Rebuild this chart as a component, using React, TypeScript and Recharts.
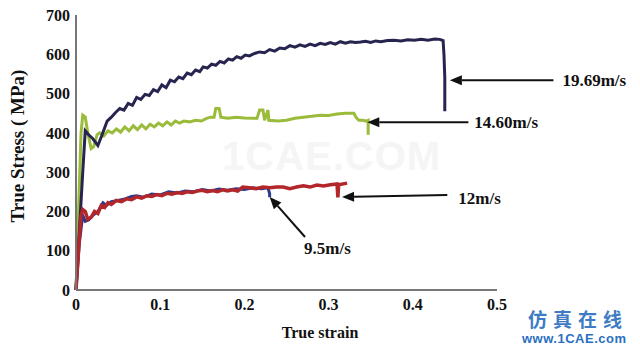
import React from 'react';
import { LineChart, Line, XAxis, YAxis, ReferenceLine } from 'recharts';

const strainTicks = [0, 0.1, 0.2, 0.3, 0.4, 0.5];
const stressTicks = [0, 100, 200, 300, 400, 500, 600, 700];

const v1969: [number, number][] = [
  [0, 0], [0.004, 150], [0.008, 300], [0.011, 405], [0.015, 395], [0.02, 385], [0.026, 368],
  [0.031, 395], [0.037, 430], [0.042, 440], [0.047, 452], [0.052, 462], [0.057, 458], [0.062, 475],
  [0.067, 470], [0.072, 490], [0.077, 485], [0.082, 498], [0.087, 495], [0.092, 510], [0.097, 505],
  [0.102, 522], [0.107, 515], [0.112, 534], [0.117, 530], [0.122, 542], [0.127, 538], [0.132, 552],
  [0.137, 548], [0.142, 560], [0.147, 556], [0.151, 568], [0.156, 565], [0.161, 575], [0.166, 572],
  [0.171, 582], [0.176, 578], [0.181, 588], [0.186, 585], [0.191, 594], [0.196, 590], [0.201, 598],
  [0.206, 596], [0.212, 602], [0.218, 606], [0.224, 604], [0.23, 612], [0.236, 608], [0.242, 616],
  [0.248, 614], [0.254, 622], [0.26, 618], [0.266, 624], [0.272, 620], [0.278, 626], [0.284, 622],
  [0.29, 628], [0.296, 625], [0.302, 630], [0.308, 626], [0.314, 632], [0.32, 628], [0.326, 632],
  [0.332, 630], [0.338, 631], [0.344, 633], [0.35, 630], [0.356, 634], [0.362, 632], [0.37, 635],
  [0.378, 636], [0.386, 634], [0.394, 637], [0.402, 636], [0.41, 638], [0.418, 636], [0.426, 639],
  [0.432, 638], [0.436, 635], [0.437, 600], [0.438, 540], [0.438, 470], [0.438, 455],
];

const v1460: [number, number][] = [
  [0, 0], [0.003, 200], [0.006, 400], [0.008, 445], [0.011, 440], [0.014, 400], [0.018, 360],
  [0.021, 365], [0.025, 395], [0.028, 400], [0.033, 392], [0.038, 405], [0.043, 400], [0.048, 410],
  [0.053, 402], [0.058, 415], [0.063, 405], [0.068, 418], [0.073, 408], [0.078, 420], [0.083, 410],
  [0.088, 422], [0.093, 415], [0.098, 425], [0.103, 418], [0.108, 428], [0.113, 420], [0.118, 430],
  [0.123, 425], [0.128, 430], [0.135, 428], [0.142, 432], [0.149, 430], [0.155, 437], [0.16, 440],
  [0.164, 440], [0.166, 462], [0.17, 462], [0.172, 440], [0.18, 437], [0.19, 440], [0.2, 438],
  [0.21, 437], [0.215, 437], [0.218, 458], [0.222, 458], [0.224, 432], [0.228, 458], [0.229, 432],
  [0.24, 430], [0.25, 432], [0.26, 437], [0.27, 440], [0.28, 442], [0.29, 445], [0.3, 444],
  [0.31, 448], [0.32, 450], [0.33, 450], [0.333, 438], [0.336, 432], [0.34, 432], [0.345, 430],
  [0.347, 432], [0.347, 395],
];

const v12: [number, number][] = [
  [0, 0], [0.003, 100], [0.006, 190], [0.008, 205], [0.011, 200], [0.014, 180], [0.018, 185],
  [0.022, 200], [0.026, 195], [0.03, 215], [0.034, 210], [0.038, 222], [0.042, 218], [0.048, 228],
  [0.054, 225], [0.06, 232], [0.066, 230], [0.072, 237], [0.078, 234], [0.084, 240], [0.09, 238],
  [0.096, 243], [0.102, 240], [0.108, 246], [0.114, 244], [0.12, 248], [0.126, 246], [0.132, 250],
  [0.138, 248], [0.144, 252], [0.15, 254], [0.156, 250], [0.162, 253], [0.168, 250], [0.174, 255],
  [0.18, 252], [0.186, 255], [0.192, 252], [0.198, 262], [0.206, 260], [0.214, 258], [0.222, 262],
  [0.23, 260], [0.238, 262], [0.246, 262], [0.254, 258], [0.262, 262], [0.27, 265], [0.278, 262],
  [0.286, 267], [0.294, 265], [0.302, 268], [0.31, 270], [0.311, 236], [0.312, 268], [0.322, 272],
];

const v95: [number, number][] = [
  [0, 0], [0.004, 120], [0.008, 190], [0.011, 175], [0.015, 178], [0.02, 190], [0.026, 200],
  [0.032, 222], [0.036, 215], [0.042, 225], [0.05, 228], [0.058, 232], [0.066, 238], [0.072, 240],
  [0.08, 236], [0.09, 244], [0.1, 242], [0.11, 250], [0.12, 247], [0.13, 252], [0.14, 250],
  [0.15, 256], [0.16, 252], [0.17, 257], [0.18, 254], [0.19, 258], [0.2, 256], [0.21, 260],
  [0.22, 258], [0.228, 260], [0.23, 245], [0.23, 236],
];

// annotation: label, arrow tip (strain, stress), arrow tail (strain, stress)
const annLabels = ['19.69m/s', '14.60m/s', '12m/s', '9.5m/s'];
const annTips: [number, number][] = [[0.444, 534], [0.346, 427], [0.316, 237], [0.23, 237]];
const annTails: [number, number][] = [[0.567, 534], [0.466, 427], [0.441, 242], [0.272, 135]];

const toRows = (arr: [number, number][]) => arr.map(([x, y]) => ({ x, y }));

const FONT = "'Liberation Serif', 'Times New Roman', serif";

const textOffsets = [
  { dx: 9, dy: 0, anchor: 'start' },
  { dx: 6, dy: 0, anchor: 'start' },
  { dx: 11, dy: 4, anchor: 'start' },
  { dx: -1, dy: 12, anchor: 'start' },
];

const makeArrow = (idx: number) => (props: any) => {
  const { x1, y1, x2, y2 } = props;
  const ang = Math.atan2(y2 - y1, x2 - x1);
  const L = 12;
  const W = 5;
  const bx = x2 - L * Math.cos(ang);
  const by = y2 - L * Math.sin(ang);
  const px = -Math.sin(ang) * W;
  const py = Math.cos(ang) * W;
  const o = textOffsets[idx];
  return (
    <g>
      <line x1={x1} y1={y1} x2={bx} y2={by} stroke="#111" strokeWidth={2} />
      <polygon points={`${x2},${y2} ${bx + px},${by + py} ${bx - px},${by - py}`} fill="#111" />
      <text
        x={x1 + o.dx}
        y={y1 + o.dy}
        textAnchor={o.anchor as any}
        dominantBaseline="central"
        fontFamily={FONT}
        fontWeight="bold"
        fontSize={17}
        fill="#111"
      >
        {annLabels[idx]}
      </text>
    </g>
  );
};

export default function App() {
  return (
    <div style={{ position: 'absolute', left: 0, top: 0, width: 640, height: 346, background: '#fff' }}>
      <div
        style={{
          position: 'absolute', left: 222, top: 134, fontFamily: 'Arial, Liberation Sans, sans-serif',
          fontWeight: 'bold', fontSize: 40, color: '#f5f5f5', letterSpacing: 1,
        }}
      >
        1CAE.COM
      </div>
      <LineChart
        width={640}
        height={346}
        margin={{ top: 15, right: 143, bottom: 0, left: 16 }}
        style={{ position: 'absolute', left: 0, top: 0 }}
      >
        <XAxis
          type="number"
          dataKey="x"
          domain={[0, 0.5]}
          ticks={strainTicks}
          allowDuplicatedCategory={false}
          height={56}
          stroke="#777"
          strokeWidth={2}
          tickLine={false}
          tickSize={0}
          tickMargin={9}
          tick={{ fill: '#111', fontFamily: FONT, fontWeight: 'bold', fontSize: 16 }}
          label={{
            content: (p: any) => (
              <text
                x={320}
                y={p.viewBox.y + 42}
                textAnchor="middle"
                dominantBaseline="central"
                fontFamily={FONT}
                fontWeight="bold"
                fontSize={16}
                fill="#111"
              >
                True strain
              </text>
            ),
          }}
        />
        <YAxis
          type="number"
          dataKey="y"
          domain={[0, 700]}
          ticks={stressTicks}
          width={60}
          stroke="#777"
          strokeWidth={2}
          tickLine={false}
          tickSize={0}
          tickMargin={6}
          tick={{ fill: '#111', fontFamily: FONT, fontWeight: 'bold', fontSize: 16 }}
          label={{
            content: () => (
              <text
                x={17}
                y={146}
                transform="rotate(-90 17 146)"
                textAnchor="middle"
                dominantBaseline="central"
                fontFamily={FONT}
                fontWeight="bold"
                fontSize={19}
                fill="#111"
              >
                True Stress ( MPa)
              </text>
            ),
          }}
        />
        <Line data={toRows(v1460)} dataKey="y" type="linear" stroke="#9bbb3a" strokeWidth={3} dot={false} isAnimationActive={false} />
        <Line data={toRows(v1969)} dataKey="y" type="linear" stroke="#27254f" strokeWidth={3} dot={false} isAnimationActive={false} />
        <Line data={toRows(v95)} dataKey="y" type="linear" stroke="#2d3a8c" strokeWidth={3} dot={false} isAnimationActive={false} />
        <Line data={toRows(v12)} dataKey="y" type="linear" stroke="#b3262a" strokeWidth={3.5} dot={false} isAnimationActive={false} />
        {annLabels.map((l, i) => (
          <ReferenceLine
            key={l}
            segment={[
              { x: annTails[i][0], y: annTails[i][1] },
              { x: annTips[i][0], y: annTips[i][1] },
            ]}
            ifOverflow="visible"
            shape={makeArrow(i)}
          />
        ))}
      </LineChart>
      <div
        style={{
          position: 'absolute', left: 528, top: 309, height: 20, lineHeight: '20px',
          fontFamily: "'Noto Sans CJK SC', sans-serif",
          fontWeight: 'bold', fontSize: 19, color: '#3d7cc4', letterSpacing: 6, whiteSpace: 'nowrap',
        }}
      >
        仿真在线
      </div>
      <div
        style={{
          position: 'absolute', left: 522, top: 332, height: 14, lineHeight: '14px',
          fontFamily: 'Arial, Liberation Sans, sans-serif',
          fontWeight: 'bold', fontSize: 13, color: '#2a6fc0', letterSpacing: 0.5, whiteSpace: 'nowrap',
        }}
      >
        www.1CAE.com
      </div>
    </div>
  );
}
